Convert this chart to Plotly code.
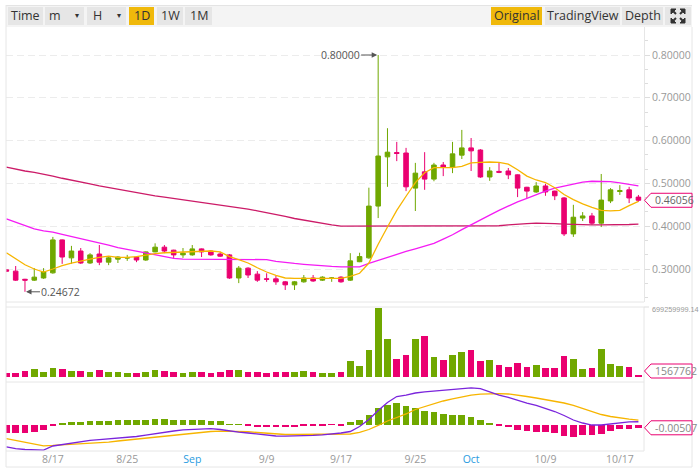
import plotly.graph_objects as go
import pandas as pd

W, H = 699, 475

# ---------------- data ----------------
start_date = "2018-08-12"
dates = pd.date_range(start_date, periods=69, freq="D")

open_ = [0.298, 0.295, 0.276, 0.274, 0.279, 0.291, 0.368, 0.326, 0.342, 0.314,
         0.335, 0.316, 0.323, 0.3257, 0.328, 0.321, 0.340, 0.351, 0.344, 0.333,
         0.333, 0.347, 0.342, 0.335, 0.333, 0.279, 0.302, 0.288, 0.277, 0.277,
         0.270, 0.263, 0.270, 0.279, 0.274, 0.2785, 0.281, 0.274, 0.317, 0.326,
         0.447, 0.562, 0.572, 0.571, 0.489, 0.527, 0.510, 0.543, 0.538, 0.566,
         0.583, 0.578, 0.515, 0.528, 0.529, 0.520, 0.491, 0.480, 0.494, 0.482,
         0.466, 0.382, 0.419, 0.424, 0.407, 0.459, 0.481, 0.485, 0.468]
high_ = [0.300, 0.307, 0.277, 0.302, 0.302, 0.375, 0.369, 0.354, 0.349, 0.337,
         0.356, 0.328, 0.330, 0.333, 0.329, 0.341, 0.360, 0.356, 0.345, 0.349,
         0.356, 0.348, 0.344, 0.340, 0.335, 0.307, 0.304, 0.295, 0.290, 0.284,
         0.272, 0.272, 0.286, 0.286, 0.283, 0.281, 0.283, 0.337, 0.338, 0.490,
         0.800, 0.629, 0.597, 0.583, 0.548, 0.573, 0.548, 0.550, 0.597, 0.625,
         0.606, 0.580, 0.538, 0.548, 0.536, 0.521, 0.492, 0.503, 0.499, 0.483,
         0.468, 0.450, 0.433, 0.431, 0.522, 0.489, 0.496, 0.492, 0.473]
low_ = [0.293, 0.272, 0.24672, 0.272, 0.277, 0.289, 0.312, 0.312, 0.312, 0.312,
        0.309, 0.309, 0.314, 0.319, 0.316, 0.319, 0.339, 0.337, 0.324, 0.326,
        0.331, 0.328, 0.331, 0.328, 0.277, 0.267, 0.279, 0.270, 0.270, 0.263,
        0.251, 0.251, 0.268, 0.270, 0.272, 0.270, 0.268, 0.272, 0.316, 0.324,
        0.419, 0.492, 0.552, 0.482, 0.4355, 0.485, 0.505, 0.517, 0.524, 0.557,
        0.529, 0.513, 0.506, 0.524, 0.510, 0.468, 0.466, 0.478, 0.471, 0.461,
        0.377, 0.375, 0.412, 0.403, 0.398, 0.454, 0.473, 0.454, 0.457]
close_ = [0.295, 0.274, 0.274, 0.281, 0.293, 0.368, 0.328, 0.342, 0.314, 0.333,
          0.316, 0.326, 0.328, 0.3262, 0.321, 0.340, 0.351, 0.342, 0.333, 0.337,
          0.347, 0.340, 0.333, 0.330, 0.279, 0.302, 0.286, 0.274, 0.276, 0.270,
          0.263, 0.270, 0.279, 0.272, 0.281, 0.279, 0.270, 0.319, 0.329, 0.447,
          0.564, 0.573, 0.570, 0.492, 0.524, 0.510, 0.543, 0.538, 0.569, 0.583,
          0.576, 0.515, 0.529, 0.526, 0.520, 0.489, 0.482, 0.494, 0.480, 0.471,
          0.382, 0.421, 0.424, 0.407, 0.461, 0.485, 0.483, 0.466, 0.46056]

ma7 = [0.338, 0.325, 0.310, 0.300, 0.293, 0.300, 0.308, 0.314, 0.319, 0.323,
       0.327, 0.330, 0.327, 0.327, 0.329, 0.333, 0.336, 0.338, 0.339, 0.339,
       0.340, 0.341, 0.342, 0.340, 0.329, 0.322, 0.314, 0.303, 0.293, 0.285,
       0.279, 0.278, 0.278, 0.277, 0.277, 0.278, 0.278, 0.283, 0.290, 0.314,
       0.358, 0.398, 0.437, 0.470, 0.502, 0.525, 0.537, 0.537, 0.537, 0.540,
       0.548, 0.549, 0.550, 0.549, 0.545, 0.532, 0.517, 0.508, 0.502, 0.490,
       0.474, 0.462, 0.452, 0.444, 0.437, 0.436, 0.437, 0.448, 0.458]
ma25 = [0.417, 0.409, 0.401, 0.394, 0.389, 0.386, 0.381, 0.376, 0.372, 0.366,
        0.361, 0.356, 0.350, 0.346, 0.341, 0.337, 0.333, 0.329, 0.325, 0.323,
        0.323, 0.323, 0.323, 0.323, 0.323, 0.323, 0.323, 0.323, 0.322, 0.318,
        0.315, 0.313, 0.311, 0.309, 0.307, 0.306, 0.305, 0.305, 0.305, 0.313,
        0.320, 0.328, 0.334, 0.341, 0.347, 0.353, 0.360, 0.370, 0.380, 0.392,
        0.404, 0.414, 0.426, 0.437, 0.447, 0.457, 0.465, 0.474, 0.482, 0.489,
        0.494, 0.499, 0.503, 0.505, 0.505, 0.504, 0.501, 0.498, 0.494]
ma99 = [0.538, 0.533, 0.529, 0.526, 0.522, 0.517, 0.512, 0.508, 0.504, 0.499,
        0.494, 0.490, 0.486, 0.482, 0.478, 0.474, 0.471, 0.468, 0.465, 0.461,
        0.458, 0.456, 0.453, 0.450, 0.447, 0.444, 0.440, 0.436, 0.432, 0.428,
        0.423, 0.418, 0.414, 0.410, 0.406, 0.403, 0.400, 0.400, 0.400, 0.400,
        0.400, 0.400, 0.400, 0.400, 0.400, 0.400, 0.400, 0.400, 0.400, 0.400,
        0.400, 0.400, 0.400, 0.401, 0.403, 0.405, 0.406, 0.407, 0.407, 0.406,
        0.405, 0.404, 0.403, 0.403, 0.403, 0.403, 0.404, 0.404, 0.405]

volume = [44e6, 44e6, 58e6, 78e6, 48e6, 88e6, 78e6, 64e6, 58e6, 48e6,
          68e6, 48e6, 48e6, 37e6, 37e6, 48e6, 68e6, 58e6, 48e6, 37e6,
          48e6, 48e6, 37e6, 48e6, 68e6, 68e6, 48e6, 48e6, 37e6, 48e6,
          48e6, 48e6, 58e6, 48e6, 37e6, 37e6, 48e6, 159e6, 111e6, 270e6,
          699259999.14, 382e6, 179e6, 220e6, 382e6, 412e6, 200e6, 169e6, 220e6, 250e6,
          270e6, 159e6, 169e6, 119e6, 98e6, 139e6, 98e6, 119e6, 88e6, 88e6,
          210e6, 179e6, 78e6, 88e6, 281e6, 129e6, 108e6, 98e6, 15677620]

macd_dif = [-0.0343, -0.0370, -0.0385, -0.0393, -0.0396, -0.0331, -0.0308, -0.0285, -0.0262, -0.0246,
            -0.0234, -0.0223, -0.0208, -0.0197, -0.0185, -0.0162, -0.0139, -0.0116, -0.0100, -0.0082,
            -0.0074, -0.0066, -0.0062, -0.0077, -0.0100, -0.0116, -0.0131, -0.0146, -0.0162, -0.0177,
            -0.0180, -0.0180, -0.0180, -0.0169, -0.0159, -0.0146, -0.0131, -0.0108, -0.0031, 0.0077,
            0.0216, 0.0339, 0.0431, 0.0454, 0.0485, 0.0501, 0.0516, 0.0524, 0.0539, 0.0554,
            0.0565, 0.0554, 0.0501, 0.0454, 0.0416, 0.0370, 0.0331, 0.0293, 0.0246, 0.0200,
            0.0139, 0.0069, 0.0023, -0.0008, -0.0008, 0.0008, 0.0023, 0.0039, 0.0042]
macd_dea = [-0.0216, -0.0246, -0.0277, -0.0308, -0.0328, -0.0323, -0.0316, -0.0308, -0.0300, -0.0293,
            -0.0282, -0.0270, -0.0254, -0.0239, -0.0223, -0.0205, -0.0189, -0.0174, -0.0162, -0.0146,
            -0.0139, -0.0123, -0.0108, -0.0103, -0.0105, -0.0108, -0.0112, -0.0123, -0.0134, -0.0143,
            -0.0154, -0.0154, -0.0154, -0.0154, -0.0154, -0.0154, -0.0154, -0.0146, -0.0123, -0.0077,
            -0.0015, 0.0054, 0.0108, 0.0162, 0.0231, 0.0277, 0.0323, 0.0362, 0.0393, 0.0424,
            0.0451, 0.0467, 0.0477, 0.0477, 0.0470, 0.0454, 0.0431, 0.0408, 0.0385, 0.0362,
            0.0331, 0.0293, 0.0246, 0.0200, 0.0154, 0.0123, 0.0100, 0.0082, 0.0066]
macd_hist = [-0.0128, -0.0128, -0.0128, -0.0112, -0.0088, -0.0020, 0.0015, 0.0035, 0.0035, 0.0051,
             0.0051, 0.0051, 0.0066, 0.0066, 0.0066, 0.0066, 0.0082, 0.0082, 0.0066, 0.0066,
             0.0066, 0.0066, 0.0051, 0.0051, 0.0005, 0.0005, -0.0020, -0.0035, -0.0035, -0.0035,
             -0.0035, -0.0035, -0.0020, -0.0020, -0.0011, -0.0005, -0.0011, 0.0042, 0.0066, 0.0143,
             0.0257, 0.0308, 0.0334, 0.0282, 0.0257, 0.0205, 0.0196, 0.0159, 0.0143, 0.0143,
             0.0108, 0.0066, 0.0026, -0.0020, -0.0035, -0.0088, -0.0103, -0.0112, -0.0112, -0.0128,
             -0.0180, -0.0189, -0.0165, -0.0154, -0.0139, -0.0097, -0.0072, -0.0062, -0.00507]

tick_dates = ["2018-08-17", "2018-08-25", "2018-09-01", "2018-09-09", "2018-09-17",
              "2018-09-25", "2018-10-01", "2018-10-09", "2018-10-17"]
tick_labels = ["8/17", "8/25", "Sep", "9/9", "9/17", "9/25", "Oct", "10/9", "10/17"]
month_labels = ["Sep", "Oct"]
price_ticks = [0.3, 0.4, 0.5, 0.6, 0.7, 0.8]
high_label = "0.80000"
low_label = "0.24672"
vol_max_label = "699259999.14"
vol_last_label = "1567762"
macd_last_label = "-0.00507"

left_buttons = ["Time", "m", "H", "1D", "1W", "1M"]
right_buttons = ["Original", "TradingView", "Depth"]

# ---------------- styling ----------------
GREEN = "#70a800"
PINK = "#ea0070"
YEL = "#f7b500"
MAG = "#f41cf4"
CRIM = "#cc1b68"
PURP = "#7a24dc"
GRAY = "#999999"
BORDER = "#e6e6e6"
FONT = "Open Sans"

PL, PR = 6, 644
MAIN_T, MAIN_B = 27, 302
VOL_T, VOL_B = 307, 377
MACD_T, MACD_B = 382, 451

def px(x):
    return x / W

def py(y):
    return 1 - y / H

# price axis: 0.8 -> 55px, 0.3 -> 269px
ppu = (269 - 55) / 0.5
y_lo = 0.3 - (MAIN_B - 269) / ppu
y_hi = 0.8 + (55 - MAIN_T) / ppu
# macd axis: zero at 424.5px
mpp = 0.00154
m_lo = -(MACD_B - 424.5) * mpp
m_hi = (424.5 - MACD_T) * mpp
vol_hi = max(volume) * (VOL_B - VOL_T) / (VOL_B - VOL_T - 0.7)

x_start = dates[0] - pd.Timedelta(hours=1)
x_end = dates[0] + pd.Timedelta(days=68.6)
bar_w = 0.72 * 86400000

up = [c >= o for o, c in zip(open_, close_)]
vol_colors = [GREEN if u else PINK for u in up]
hist_colors = [GREEN if v >= 0 else PINK for v in macd_hist]

fig = go.Figure()
fig.add_trace(go.Candlestick(
    x=dates, open=open_, high=high_, low=low_, close=close_,
    increasing=dict(line=dict(color=GREEN, width=1), fillcolor=GREEN),
    decreasing=dict(line=dict(color=PINK, width=1), fillcolor=PINK),
    whiskerwidth=0, showlegend=False, hoverinfo="skip", xaxis="x", yaxis="y"))
for arr, col in [(ma99, CRIM), (ma25, MAG), (ma7, YEL)]:
    fig.add_trace(go.Scatter(x=dates, y=arr, mode="lines", line=dict(color=col, width=1.3),
                             showlegend=False, hoverinfo="skip", xaxis="x", yaxis="y"))
fig.add_trace(go.Bar(x=dates, y=volume, marker=dict(color=vol_colors, line=dict(width=0)),
                     width=bar_w, showlegend=False, hoverinfo="skip", xaxis="x2", yaxis="y2"))
fig.add_trace(go.Bar(x=dates, y=macd_hist, marker=dict(color=hist_colors, line=dict(width=0)),
                     width=bar_w, showlegend=False, hoverinfo="skip", xaxis="x3", yaxis="y3"))
fig.add_trace(go.Scatter(x=dates, y=macd_dea, mode="lines", line=dict(color=YEL, width=1.3),
                         showlegend=False, hoverinfo="skip", xaxis="x3", yaxis="y3"))
fig.add_trace(go.Scatter(x=dates, y=macd_dif, mode="lines", line=dict(color=PURP, width=1.3),
                         showlegend=False, hoverinfo="skip", xaxis="x3", yaxis="y3"))

xdom = [px(PL), px(PR)]
xcommon = dict(domain=xdom, range=[x_start, x_end], type="date", showgrid=False,
               zeroline=False, showline=False, fixedrange=True)
ticktext = [(f"<span style='color:#2a9be0'>{t}</span>" if t in month_labels else t)
            for t in tick_labels]

fig.update_layout(
    width=W, height=H, autosize=False,
    margin=dict(l=0, r=0, t=0, b=0, pad=0),
    paper_bgcolor="white", plot_bgcolor="white",
    font=dict(family=FONT, size=11, color=GRAY),
    bargap=0,
    xaxis=dict(**xcommon, anchor="y", showticklabels=False, rangeslider=dict(visible=False)),
    xaxis2=dict(**xcommon, anchor="y2", showticklabels=False, matches="x"),
    xaxis3=dict(**xcommon, anchor="y3", matches="x", tickvals=tick_dates, ticktext=ticktext,
                ticks="", tickfont=dict(family=FONT, size=10.5, color=GRAY)),
    yaxis=dict(domain=[py(MAIN_B), py(MAIN_T)], range=[y_lo, y_hi], side="right", anchor="x",
               tickvals=price_ticks, tickformat=".5f", ticks="outside", ticklen=5,
               tickcolor="#dddddd", tickfont=dict(family=FONT, size=10.5, color=GRAY),
               showline=True, linecolor=BORDER, linewidth=1,
               showgrid=True, gridcolor="#ececec", griddash="7px,4px", gridwidth=1,
               zeroline=False, automargin=False, fixedrange=True,
               minor=dict(dtick=0.1 / 3, tick0=0.3, ticks="outside", ticklen=3,
                          tickcolor="#dddddd", showgrid=False)),
    yaxis2=dict(domain=[py(VOL_B), py(VOL_T)], range=[0, vol_hi], side="right", anchor="x2",
                showticklabels=False, showgrid=False, zeroline=False, showline=False,
                automargin=False, fixedrange=True),
    yaxis3=dict(domain=[py(MACD_B), py(MACD_T)], range=[m_lo, m_hi], side="right", anchor="x3",
                showticklabels=False, showgrid=False, zeroline=False, showline=False,
                automargin=False, fixedrange=True),
)

shapes = []
annos = []

def rect(x0, y0, x1, y1, fill, line=None, layer="below"):
    d = dict(type="rect", xref="paper", yref="paper", x0=px(x0), x1=px(x1), y0=py(y1), y1=py(y0),
             fillcolor=fill, layer=layer, line=dict(width=0))
    if line:
        d["line"] = dict(color=line, width=1)
    shapes.append(d)

def hline(x0, x1, y, color=BORDER):
    shapes.append(dict(type="line", xref="paper", yref="paper", x0=px(x0), x1=px(x1),
                       y0=py(y), y1=py(y), line=dict(color=color, width=1), layer="above"))

def vline(x, y0, y1, color=BORDER):
    shapes.append(dict(type="line", xref="paper", yref="paper", x0=px(x), x1=px(x),
                       y0=py(y0), y1=py(y1), line=dict(color=color, width=1), layer="above"))

def text(x, y, s, size=12, color="#333333", anchor="center", family=FONT):
    annos.append(dict(xref="paper", yref="paper", x=px(x), y=py(y), text=s, showarrow=False,
                      xanchor=anchor, yanchor="middle", font=dict(family=family, size=size, color=color)))

# toolbar
rect(6, 5, 692, 27, "#f4f4f4")
hline(6, 692, 5.5, "#e4e4e4")
btns_l = [(8, 43), (45, 84), (87, 126), (129, 154), (157, 183), (185, 212)]
for (a, b), lab in zip(btns_l, left_buttons):
    fill = "#f0b90b" if lab == "1D" else "#e6e6e6"
    rect(a, 7, b, 25, fill)
    if lab in ("m", "H"):
        text(a + 10, 16, lab, 12.5, anchor="center")
        text(b - 7, 16, "▾", 8, anchor="center", family="DejaVu Sans")
    else:
        text((a + b) / 2, 16, lab, 12.5)
btns_r = [(491, 542), (545, 620), (622, 663)]
for (a, b), lab in zip(btns_r, right_buttons):
    fill = "#f0b90b" if lab == "Original" else "#e6e6e6"
    rect(a, 7, b, 25, fill)
    text((a + b) / 2, 16, lab, 12.5)
rect(665, 7, 691, 25, "#e6e6e6")
cx, cy, s = 678, 16, 7
for dx in (-1, 1):
    for dy in (-1, 1):
        x0, y0 = cx + dx * s, cy + dy * s
        path = (f"M {px(x0)},{py(y0)} L {px(x0 - dx * 5)},{py(y0)} "
                f"L {px(x0)},{py(y0 - dy * 5)} Z")
        shapes.append(dict(type="path", xref="paper", yref="paper", path=path,
                           fillcolor="#333333", line=dict(color="#333333", width=1), layer="above"))
        shapes.append(dict(type="line", xref="paper", yref="paper",
                           x0=px(x0 - dx * 2), y0=py(y0 - dy * 2), x1=px(x0 - dx * 5), y1=py(y0 - dy * 5),
                           line=dict(color="#333333", width=2), layer="above"))

# frames
vline(6, 5, 467)
vline(692, 27, 467)
hline(6, 692, 467)
hline(6, 644, MAIN_B)
hline(6, 644, VOL_T)
hline(6, 644, MACD_T)
hline(6, 644, MACD_B)
vline(644, VOL_T, MACD_B)
shapes.append(dict(type="line", xref="paper", yref="paper", x0=px(644), x1=px(649),
                   y0=py(VOL_T), y1=py(VOL_T), line=dict(color="#dddddd", width=1)))

# last-value tags
def tag(cyp, label, tcolor="#666666"):
    tip, x1, x2, h = 644.5, 651, 692, 7
    path = (f"M {px(tip)},{py(cyp)} L {px(x1)},{py(cyp - h)} L {px(x2)},{py(cyp - h)} "
            f"L {px(x2)},{py(cyp + h)} L {px(x1)},{py(cyp + h)} Z")
    shapes.append(dict(type="path", xref="paper", yref="paper", path=path, fillcolor="white",
                       line=dict(color=PINK, width=1), layer="above"))
    text(653, cyp, label, 10.5, tcolor, anchor="left")

main_cy = MAIN_B - (close_[-1] - y_lo) / (y_hi - y_lo) * (MAIN_B - MAIN_T)
tag(main_cy, f"{close_[-1]:.5f}", "#666666")
vol_cy = min(VOL_B - (volume[-1] / vol_hi) * (VOL_B - VOL_T), VOL_B - 6)
tag(vol_cy, vol_last_label, "#888888")
macd_cy = MACD_B - (macd_hist[-1] - m_lo) / (m_hi - m_lo) * (MACD_B - MACD_T)
tag(macd_cy, macd_last_label, "#888888")

text(650, VOL_T + 2, vol_max_label, 7.3, "#999999", anchor="left", family="Liberation Sans")

# high / low markers
i_hi = high_.index(max(high_))
i_lo = low_.index(min(low_))
annos.append(dict(x=dates[i_hi], y=high_[i_hi], xref="x", yref="y", text=high_label,
                  showarrow=True, ax=-38, ay=0, arrowhead=2, arrowsize=1.1, arrowwidth=1,
                  arrowcolor="#555555", standoff=1,
                  font=dict(family=FONT, size=10.5, color="#555555")))
annos.append(dict(x=dates[i_lo], y=low_[i_lo], xref="x", yref="y", text=low_label,
                  showarrow=True, ax=36, ay=0, arrowhead=2, arrowsize=1.1, arrowwidth=1,
                  arrowcolor="#555555", standoff=1,
                  font=dict(family=FONT, size=10.5, color="#555555")))

fig.update_layout(shapes=shapes, annotations=annos)
fig.write_html("out.html", config={"displayModeBar": False},
               post_script="document.body.style.margin='0px';document.body.style.overflow='hidden';")
